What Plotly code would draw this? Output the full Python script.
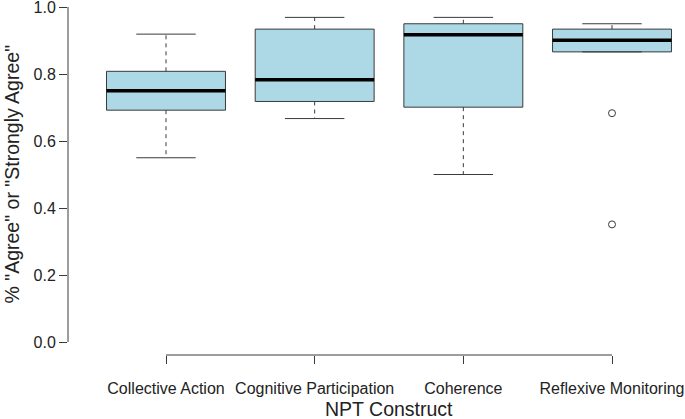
import numpy as np
import plotly.graph_objects as go

categories = ["Collective Action", "Cognitive Participation", "Coherence", "Reflexive Monitoring"]
q1 = [0.692, 0.718, 0.701, 0.866]
median = [0.750, 0.783, 0.917, 0.901]
q3 = [0.808, 0.934, 0.950, 0.934]
lower_whisker = [0.550, 0.667, 0.500, 0.866]
upper_whisker = [0.919, 0.969, 0.969, 0.950]
outliers = [[], [], [], [0.683, 0.351]]
y_ticks = [0.0, 0.2, 0.4, 0.6, 0.8, 1.0]
y_tick_labels = ["0.0", "0.2", "0.4", "0.6", "0.8", "1.0"]

positions = np.arange(1, len(categories) + 1)
box_w = 0.8
cap_w = 0.4
FONT = "Liberation Sans, Arial, Helvetica, sans-serif"
LINE = "#3a3a3a"

fig = go.Figure()

fig.add_trace(go.Box(
    x=positions, q1=q1, median=median, q3=q3,
    lowerfence=q1, upperfence=q3,
    width=box_w, whiskerwidth=0,
    fillcolor="#ADD8E6", line=dict(color=LINE, width=1),
    boxpoints=False, hoverinfo="skip", showlegend=False,
))

# whiskers (dashed) and staples (solid)
for p, a, b, lo, hi in zip(positions, q1, q3, lower_whisker, upper_whisker):
    fig.add_trace(go.Scatter(x=[p, p, None, p, p], y=[b, hi, None, a, lo], mode="lines",
                             line=dict(color=LINE, width=1, dash="4px,4px"),
                             showlegend=False, hoverinfo="skip"))
    fig.add_trace(go.Scatter(x=[p - cap_w / 2, p + cap_w / 2, None, p - cap_w / 2, p + cap_w / 2],
                             y=[hi, hi, None, lo, lo], mode="lines",
                             line=dict(color=LINE, width=1),
                             showlegend=False, hoverinfo="skip"))

# medians
mx, my = [], []
for p, m in zip(positions, median):
    mx += [p - box_w / 2, p + box_w / 2, None]
    my += [m, m, None]
fig.add_trace(go.Scatter(x=mx, y=my, mode="lines", line=dict(color="black", width=3.5),
                         showlegend=False, hoverinfo="skip"))

# outliers
ox, oy = [], []
for p, outs in zip(positions, outliers):
    for v in outs:
        ox.append(p)
        oy.append(v)
fig.add_trace(go.Scatter(x=ox, y=oy, mode="markers",
                         marker=dict(symbol="circle-open", size=7, color=LINE, line=dict(width=1)),
                         showlegend=False, hoverinfo="skip"))

# axis lines (R style, only between extreme ticks)
fig.add_shape(type="line", xref="paper", yref="y", x0=0, x1=0, y0=y_ticks[0], y1=y_ticks[-1],
              line=dict(color=LINE, width=1))
fig.add_shape(type="line", xref="x", yref="paper", x0=positions[0], x1=positions[-1], y0=0, y1=0,
              line=dict(color=LINE, width=1))

fig.add_annotation(text='% "Agree" or "Strongly Agree"', textangle=-90,
                   xref="paper", yref="y", x=0, y=0.5, xanchor="center", yanchor="middle",
                   xshift=-57, showarrow=False, font=dict(family=FONT, size=19.5, color="#222"))
fig.add_annotation(text="NPT Construct", xref="x", yref="paper",
                   x=positions.mean(), y=0, xanchor="center", yanchor="middle",
                   yshift=-54, showarrow=False, font=dict(family=FONT, size=19.5, color="#222"))

fig.update_layout(
    width=685, height=419,
    margin=dict(l=68, r=0, t=0, b=64),
    paper_bgcolor="white", plot_bgcolor="white",
    font=dict(family=FONT, size=16, color="#222"),
    showlegend=False,
)
fig.update_xaxes(range=[0.3408, 4.491], tickvals=positions, ticktext=categories,
                 ticks="outside", ticklen=8, tickcolor=LINE, tickwidth=1,
                 ticklabelstandoff=11, ticklabeloverflow="allow",
                 showgrid=False, zeroline=False, showline=False,
                 tickfont=dict(family=FONT, size=16, color="#222"))
fig.update_yaxes(range=[-0.0388, 1.0209], tickvals=y_ticks, ticktext=y_tick_labels,
                 ticks="outside", ticklen=8, tickcolor=LINE, tickwidth=1,
                 ticklabeloverflow="allow",
                 showgrid=False, zeroline=False, showline=False,
                 tickfont=dict(family=FONT, size=16, color="#222"))

fig.write_html("out.html", config={"displayModeBar": False},
               post_script="document.body.style.margin='0';document.body.style.overflow='hidden';")
